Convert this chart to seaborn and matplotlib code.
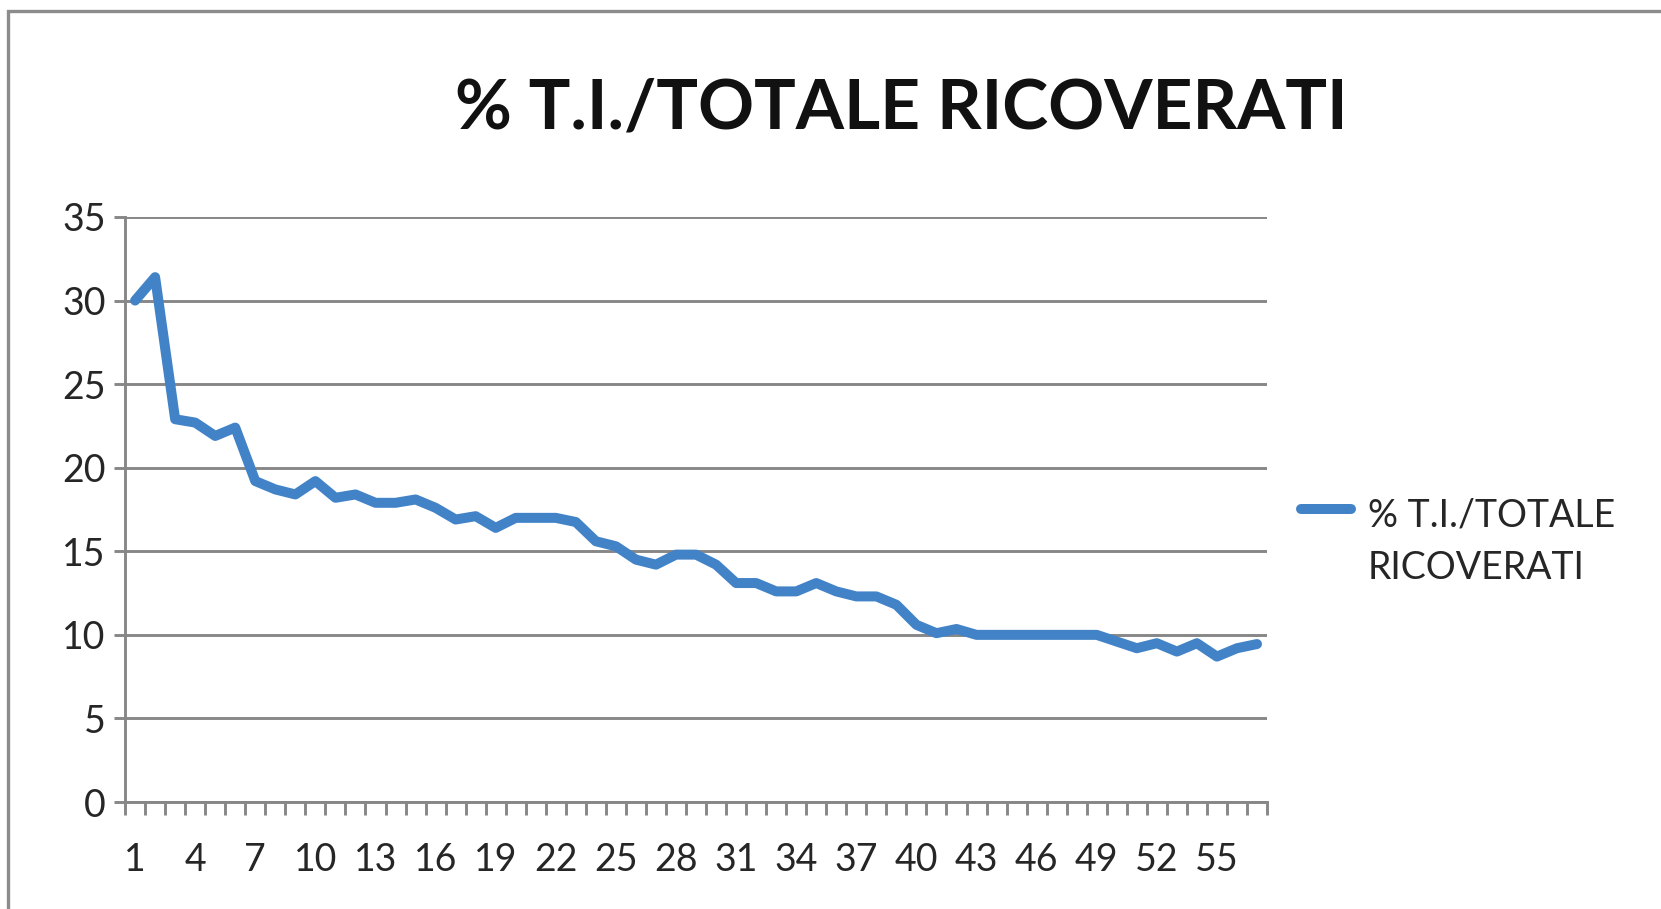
import numpy as np
import matplotlib
matplotlib.use("Agg")
import matplotlib.pyplot as plt
from matplotlib.patches import Rectangle
from matplotlib.legend_handler import HandlerLine2D
from matplotlib.ticker import MultipleLocator, FixedLocator
import seaborn as sns

# Data
days = list(range(1, 58))
pct_ti = [30.0, 31.4, 22.9, 22.7, 21.9, 22.4, 19.2, 18.7, 18.4, 19.2,
          18.2, 18.4, 17.9, 17.9, 18.1, 17.6, 16.9, 17.1, 16.4, 17.0,
          17.0, 17.0, 16.75, 15.6, 15.3, 14.5, 14.2, 14.8, 14.8, 14.2,
          13.1, 13.1, 12.6, 12.6, 13.1, 12.6, 12.3, 12.3, 11.8, 10.6,
          10.1, 10.35, 10.0, 10.0, 10.0, 10.0, 10.0, 10.0, 10.0, 9.6,
          9.2, 9.5, 9.0, 9.5, 8.7, 9.2, 9.45]
xtick_labels = [str(d) for d in days[::3]]
series_name = "% T.I./TOTALE\nRICOVERATI"
title = "% T.I./TOTALE RICOVERATI"

sns.set_theme(style="white")
plt.rcParams['font.family'] = ['Lato', 'DejaVu Sans']

blue = "#4283C8"
grey = "#878787"

fig = plt.figure(figsize=(16.61, 9.09), dpi=100)
ax = fig.add_axes([0.0753, 0.1177, 0.6875, 0.6436])

sns.lineplot(x=days, y=pct_ti, ax=ax, color=blue, linewidth=7.2,
             label=series_name)
for ln in ax.get_lines():
    ln.set_solid_joinstyle("round")
    ln.set_solid_capstyle("round")

ax.set_xlim(0.5, 57.5)
ax.set_ylim(0, 35)
ax.yaxis.set_major_locator(MultipleLocator(5))
ax.xaxis.set_major_locator(FixedLocator(days[::3]))
ax.set_xticklabels(xtick_labels)
ax.xaxis.set_minor_locator(FixedLocator(np.arange(0.5, 58, 1)))

ax.grid(axis="y", color=grey, linewidth=2.1)
ax.set_axisbelow(True)
for side in ["top", "right"]:
    ax.spines[side].set_visible(False)
for side in ["left", "bottom"]:
    ax.spines[side].set_color(grey)
    ax.spines[side].set_linewidth(2.1)

ax.tick_params(axis="y", which="major", left=True, length=8, width=2.1,
               color=grey, direction="out", pad=6, labelsize=27)
ax.tick_params(axis="x", which="major", bottom=True, length=0, pad=29,
               labelsize=27)
ax.tick_params(axis="x", which="minor", bottom=True, length=9, width=2.1,
               color=grey, direction="out")
ax.set_xlabel("")
ax.set_ylabel("")


class TopLineHandler(HandlerLine2D):
    # put the handle next to the first line of a wrapped label
    def create_artists(self, legend, orig_handle, xdescent, ydescent,
                       width, height, fontsize, trans):
        artists = super().create_artists(legend, orig_handle, xdescent,
                                         ydescent, width, height, fontsize,
                                         trans)
        for a in artists:
            a.set_ydata(np.asarray(a.get_ydata()) + 0.9 * fontsize)
        return artists


handles, labels = ax.get_legend_handles_labels()
leg = ax.legend(handles, labels, loc="center left",
                bbox_to_anchor=(0.783, 0.404), bbox_transform=fig.transFigure,
                frameon=False, fontsize=27, handlelength=1.35,
                handletextpad=0.45, borderpad=0, borderaxespad=0,
                handler_map={handles[0]: TopLineHandler()})
for t in leg.get_texts():
    t.set_linespacing(1.6)

fig.text(0.5426, 0.88, title, ha="center", va="center", fontsize=50,
         fontweight="bold", color="#111111")

fig.patches.append(Rectangle((0.0051, -0.1), 1.2, 1.0883,
                             transform=fig.transFigure, fill=False,
                             edgecolor="#8c8c8c", linewidth=2.4))

fig.savefig("out.png", dpi=100)
